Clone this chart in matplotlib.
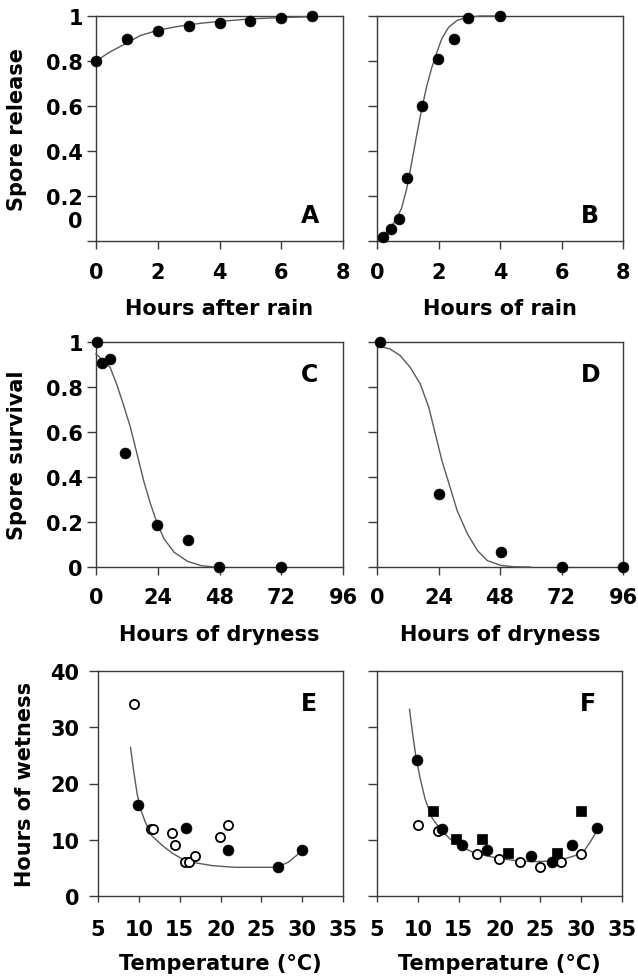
import matplotlib
matplotlib.use('Agg')
import matplotlib.pyplot as plt

plt.rcParams['font.family'] = ['DejaVu Sans']
plt.rcParams['font.weight'] = 'bold'
plt.rcParams['axes.labelweight'] = 'bold'

# ---------------- data ----------------
# A: spore release vs hours after rain
a_hours = [0, 1, 2, 3, 4, 5, 6, 7]
a_release = [0.80, 0.90, 0.935, 0.957, 0.969, 0.979, 0.99, 1.0]
a_fit_x = [0, 0.45, 1.0, 1.43, 1.97, 2.5, 2.94, 3.48, 4.0, 5.0, 6.0, 7.0]
a_fit_y = [0.80, 0.84, 0.88, 0.913, 0.935, 0.95, 0.96, 0.969, 0.976, 0.987, 0.993, 0.997]

# B: spore release vs hours of rain
b_hours = [0.21, 0.45, 0.73, 0.97, 1.46, 1.98, 2.51, 2.96, 3.99]
b_release = [0.02, 0.053, 0.099, 0.279, 0.60, 0.81, 0.90, 0.99, 1.0]
b_fit_x = [0.04, 0.32, 0.59, 0.80, 0.97, 1.13, 1.29, 1.46, 1.62, 1.78, 1.95, 2.11, 2.33, 2.60, 2.92, 3.36, 4.0]
b_fit_y = [0.006, 0.043, 0.087, 0.146, 0.235, 0.35, 0.47, 0.59, 0.69, 0.77, 0.84, 0.90, 0.95, 0.98, 0.994, 1.0, 1.0]

# C: spore survival vs hours of dryness
c_hours = [0.3, 2.2, 5.5, 11.4, 23.9, 35.9, 47.7, 72]
c_survival = [1.0, 0.905, 0.926, 0.507, 0.187, 0.12, 0.0, 0.0]
c_fit_x = [0, 2.9, 5.5, 8.1, 10.7, 13.4, 16.0, 18.6, 21.2, 23.9, 26.5, 30.4, 35.6, 40.9, 46.0]
c_fit_y = [0.947, 0.917, 0.887, 0.81, 0.72, 0.62, 0.50, 0.38, 0.28, 0.19, 0.124, 0.065, 0.025, 0.006, 0.0]

# D: spore survival vs hours of dryness
d_hours = [1.2, 24.1, 48.3, 72, 96]
d_survival = [1.0, 0.324, 0.068, 0.0, 0.0]
d_fit_x = [0, 5.1, 9.0, 13.0, 16.9, 20.2, 22.8, 25.4, 28.1, 31.3, 35.3, 39.2, 43.1, 48.4, 53.6, 60.0]
d_fit_y = [0.984, 0.969, 0.94, 0.887, 0.813, 0.71, 0.59, 0.47, 0.37, 0.25, 0.147, 0.073, 0.028, 0.007, 0.001, 0.0]

# E: hours of wetness vs temperature
e_open_t = [9.43, 11.43, 11.76, 14.0, 14.4, 15.6, 16.2, 16.9, 19.9, 20.9]
e_open_h = [34.1, 12.0, 12.0, 11.2, 9.07, 6.1, 6.1, 7.2, 10.5, 12.7]
e_fill_t = [9.92, 15.8, 20.9, 26.98, 29.96]
e_fill_h = [16.2, 12.1, 8.2, 5.2, 8.2]
e_fit_x = [8.98, 9.39, 9.80, 10.2, 10.8, 11.6, 12.9, 14.1, 15.3, 16.9, 18.98, 21.8, 24.3, 26.9, 28.3, 29.3, 29.9]
e_fit_y = [26.4, 22.0, 18.1, 15.5, 13.1, 10.7, 8.95, 7.6, 6.6, 5.9, 5.4, 5.1, 5.1, 5.1, 6.0, 7.2, 7.9]

# F: hours of wetness vs temperature
f_fill_t = [9.88, 12.95, 15.4, 18.5, 23.85, 26.4, 28.9, 31.9]
f_fill_h = [24.1, 11.9, 9.07, 8.2, 7.2, 6.0, 9.1, 12.1]
f_square_t = [11.85, 14.7, 17.9, 20.98, 27.0, 29.96]
f_square_h = [15.05, 10.1, 10.1, 7.6, 7.6, 15.05]
f_open_t = [9.96, 12.46, 17.3, 19.9, 22.46, 24.96, 27.5, 30.0]
f_open_h = [12.6, 11.6, 7.5, 6.6, 6.0, 5.2, 6.0, 7.5]
f_fit_x = [8.98, 9.34, 9.75, 10.3, 10.9, 11.7, 12.7, 13.98, 15.4, 17.05, 18.7, 20.3, 21.97, 24.0, 26.1, 27.7, 29.3, 30.4, 31.2, 31.9]
f_fit_y = [33.2, 29.1, 24.9, 20.8, 17.2, 14.0, 11.9, 10.1, 8.65, 7.6, 7.05, 6.6, 6.3, 6.1, 6.2, 6.5, 7.2, 8.1, 9.8, 11.6]

x_ticks_ab = [0, 2, 4, 6, 8]
x_ticks_cd = [0, 24, 48, 72, 96]
x_ticks_ef = [5, 10, 15, 20, 25, 30, 35]
y_ticks_frac = [0, 0.2, 0.4, 0.6, 0.8, 1.0]
y_labels_a = ['', '0.2', '0.4', '0.6', '0.8', '1']
y_labels_c = ['0', '0.2', '0.4', '0.6', '0.8', '1']
y_ticks_wet = [0, 10, 20, 30, 40]

# ---------------- figure ----------------
W, H = 638, 978
fig = plt.figure(figsize=(W / 100, H / 100), dpi=100)

def px_axes(left, top, right, bottom):
    return fig.add_axes([left / W, 1 - bottom / H, (right - left) / W, (bottom - top) / H])

axA = px_axes(96, 17, 343, 242)
axB = px_axes(377, 17, 623, 242)
axC = px_axes(96, 343, 343, 568)
axD = px_axes(377, 343, 623, 568)
axE = px_axes(98, 672, 343, 897)
axF = px_axes(377, 672, 622, 897)

SPINE = '#3a3a3a'
CURVE = '#5a5a5a'
FS = 15
LFS = 17

for ax in [axA, axB, axC, axD, axE, axF]:
    for s in ax.spines.values():
        s.set_color(SPINE)
        s.set_linewidth(1.0)
    ax.tick_params(direction='out', length=6, width=1.0, color=SPINE,
                   labelsize=FS, labelcolor='black')
    ax.tick_params(axis='y', length=6.5)

def dots(ax, x, y, **kw):
    ax.plot(x, y, linestyle='none', clip_on=False, zorder=5, **kw)

filled = dict(marker='o', ms=7.8, mfc='black', mec='black', mew=0.5)
opencirc = dict(marker='o', ms=6.6, mfc='white', mec='black', mew=1.3)
square = dict(marker='s', ms=7.4, mfc='black', mec='black', mew=0.5)

# A
axA.plot(a_fit_x, a_fit_y, color=CURVE, lw=1.0, zorder=3)
dots(axA, a_hours, a_release, **filled)
# B
axB.plot(b_fit_x, b_fit_y, color=CURVE, lw=1.0, zorder=3, clip_on=False)
dots(axB, b_hours, b_release, **filled)
# C
axC.plot(c_fit_x, c_fit_y, color=CURVE, lw=1.0, zorder=3, clip_on=False)
dots(axC, c_hours, c_survival, **filled)
# D
axD.plot(d_fit_x, d_fit_y, color=CURVE, lw=1.0, zorder=3, clip_on=False)
dots(axD, d_hours, d_survival, **filled)
# E
axE.plot(e_fit_x, e_fit_y, color=CURVE, lw=1.0, zorder=3)
dots(axE, e_open_t, e_open_h, **opencirc)
dots(axE, e_fill_t, e_fill_h, **filled)
# F
axF.plot(f_fit_x, f_fit_y, color=CURVE, lw=1.0, zorder=3)
dots(axF, f_open_t, f_open_h, **opencirc)
dots(axF, f_fill_t, f_fill_h, **filled)
dots(axF, f_square_t, f_square_h, **square)

# limits and ticks
for ax in [axA, axB]:
    ax.set_xlim(0, 8)
    ax.set_ylim(0, 1)
    ax.set_xticks(x_ticks_ab)
for ax in [axC, axD]:
    ax.set_xlim(0, 96)
    ax.set_ylim(0, 1)
    ax.set_xticks(x_ticks_cd)
for ax in [axE, axF]:
    ax.set_xlim(5, 35)
    ax.set_ylim(0, 40)
    ax.set_xticks(x_ticks_ef)

axA.set_yticks(y_ticks_frac, labels=y_labels_a)
axA.set_yticks([0.1], labels=['0'], minor=True)
axA.tick_params(axis='y', which='minor', length=0, pad=3 + 6.5, labelsize=FS)
axC.set_yticks(y_ticks_frac, labels=y_labels_c)
axB.set_yticks(y_ticks_frac)
axD.set_yticks(y_ticks_frac)
axE.set_yticks(y_ticks_wet)
axF.set_yticks(y_ticks_wet)
for ax in [axB, axD, axF]:
    ax.tick_params(axis='y', labelleft=False)

axA.tick_params(axis='y', which='major', pad=3)
axC.tick_params(axis='y', pad=3)
axE.tick_params(axis='y', pad=7)
for ax in [axA, axB]:
    ax.tick_params(axis='x', pad=9)
for ax in [axC, axD]:
    ax.tick_params(axis='x', pad=8.5)
for ax in [axE, axF]:
    ax.tick_params(axis='x', length=4.5, pad=12)

# axis labels
axA.set_ylabel('Spore release', fontsize=FS)
axC.set_ylabel('Spore survival', fontsize=FS)
axE.set_ylabel('Hours of wetness', fontsize=FS)
axA.yaxis.set_label_coords(-0.279, 0.5)
axC.yaxis.set_label_coords(-0.279, 0.5)
axE.yaxis.set_label_coords(-0.257, 0.5)

axA.set_xlabel('Hours after rain', fontsize=FS)
axB.set_xlabel('Hours of rain', fontsize=FS)
axC.set_xlabel('Hours of dryness', fontsize=FS)
axD.set_xlabel('Hours of dryness', fontsize=FS)
axE.set_xlabel('Temperature (°C)', fontsize=FS)
axF.set_xlabel('Temperature (°C)', fontsize=FS)
for ax in [axA, axB, axC, axD, axE, axF]:
    ax.xaxis.set_label_coords(0.5, -0.252)
    ax.xaxis.label.set_verticalalignment('top')

# panel letters
for ax, letter in [(axA, 'A'), (axB, 'B')]:
    ax.text(0.83, 0.084, letter, transform=ax.transAxes, ha='left', va='baseline',
            fontsize=LFS, fontweight='bold')
for ax, letter in [(axC, 'C'), (axD, 'D'), (axE, 'E'), (axF, 'F')]:
    ax.text(0.83, 0.825, letter, transform=ax.transAxes, ha='left', va='baseline',
            fontsize=LFS, fontweight='bold')

fig.savefig('out.png', dpi=100, facecolor='white')
